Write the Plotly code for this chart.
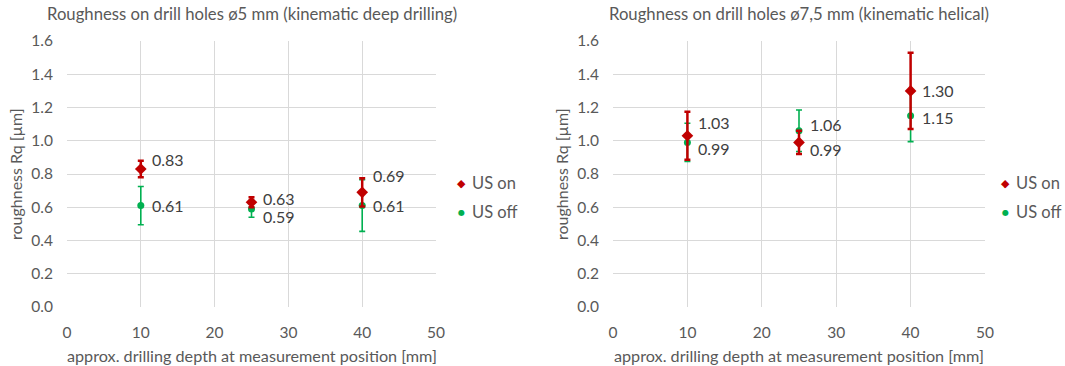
import plotly.graph_objects as go

# ---------------- data ----------------
depth = [10, 25, 40]

# left chart: drill holes ø5 mm (kinematic deep drilling)
l_on = [0.83, 0.63, 0.69]
l_on_err = [0.05, 0.03, 0.085]
l_off = [0.61, 0.59, 0.61]
l_off_err = [0.115, 0.05, 0.155]

# right chart: drill holes ø7,5 mm (kinematic helical)
r_on = [1.03, 0.99, 1.30]
r_on_err = [0.145, 0.07, 0.23]
r_off = [0.99, 1.06, 1.15]
r_off_err = [0.115, 0.125, 0.155]

titles = ["Roughness on drill holes ø5 mm (kinematic deep drilling)",
          "Roughness on drill holes ø7,5 mm (kinematic helical)"]
series_names = ["US on", "US off"]
x_title = "approx. drilling depth at measurement position [mm]"
y_title = "roughness Rq [µm]"

# label offsets (style, pixels)
l_on_dy = [10, 4, 17]
l_off_dy = [0, -8, 0]
r_on_dy = [13, -7, 0]
r_off_dy = [-6, 6, -2]

# ---------------- style ----------------
FONT = "Lato"
RED = "#C00000"
GREEN = "#00B050"
GRID = "#D9D9D9"
TXT = "#595959"
LBL = "#404040"

W, H = 1065, 366
x_dom = [[67 / W, 436 / W], [613 / W, 985 / W]]
y_dom = [(H - 307) / H, (H - 41) / H]


def px(x):
    return x / W


def py(y):
    return (H - y) / H


fig = go.Figure()

panels = [
    (l_on, l_on_err, l_off, l_off_err, l_on_dy, l_off_dy, "x", "y"),
    (r_on, r_on_err, r_off, r_off_err, r_on_dy, r_off_dy, "x2", "y2"),
]

annotations = []
for (on, on_e, off, off_e, on_dy, off_dy, xa, ya) in panels:
    fig.add_trace(go.Scatter(
        x=depth, y=off, mode="markers", name=series_names[1], showlegend=False,
        marker=dict(symbol="circle", size=7, color=GREEN),
        error_y=dict(type="data", array=off_e, visible=True, color=GREEN,
                     thickness=1.6, width=3),
        xaxis=xa, yaxis=ya))
    fig.add_trace(go.Scatter(
        x=depth, y=on, mode="markers", name=series_names[0], showlegend=False,
        marker=dict(symbol="diamond", size=9, color=RED),
        error_y=dict(type="data", array=on_e, visible=True, color=RED,
                     thickness=2.5, width=3),
        xaxis=xa, yaxis=ya))
    for vals, dys in ((on, on_dy), (off, off_dy)):
        for xv, yv, dy in zip(depth, vals, dys):
            annotations.append(dict(
                x=xv, y=yv, xref=xa, yref=ya, text=f"{yv:.2f}",
                showarrow=False, xanchor="left", yanchor="middle",
                xshift=10, yshift=dy, borderpad=0,
                font=dict(family=FONT, size=16, color=LBL)))

# titles and axis titles
for i, t in enumerate(titles):
    cx = (x_dom[i][0] + x_dom[i][1]) / 2
    annotations.append(dict(
        x=cx, y=py(14), xref="paper", yref="paper", text=t, showarrow=False,
        xanchor="center", yanchor="middle",
        font=dict(family=FONT, size=16.7, color=TXT)))
    annotations.append(dict(
        x=cx, y=py(355), xref="paper", yref="paper", text=x_title, showarrow=False,
        xanchor="center", yanchor="middle",
        font=dict(family=FONT, size=16.2, color=TXT)))
    annotations.append(dict(
        x=px(15 if i == 0 else 561), y=(y_dom[0] + y_dom[1]) / 2,
        xref="paper", yref="paper", text=y_title, showarrow=False, textangle=-90,
        xanchor="center", yanchor="middle",
        font=dict(family=FONT, size=16, color=TXT)))

# legends (one per chart)
for lx in (461, 1005):
    for name, sym, col, ly, sz in ((series_names[0], "◆", RED, 183, 11),
                                   (series_names[1], "●", GREEN, 212, 8)):
        annotations.append(dict(
            x=px(lx), y=py(ly), xref="paper", yref="paper", text=sym,
            showarrow=False, xanchor="center", yanchor="middle",
            font=dict(family="DejaVu Sans", size=sz, color=col)))
        annotations.append(dict(
            x=px(lx + 9), y=py(ly), xref="paper", yref="paper", text=name,
            showarrow=False, xanchor="left", yanchor="middle",
            font=dict(family=FONT, size=16.5, color=TXT)))

axis_common = dict(
    showgrid=True, gridcolor=GRID, gridwidth=1,
    showline=False, zeroline=False, ticks="", automargin=False,
    tickfont=dict(family=FONT, size=15.5, color=TXT),
)

layout = dict(
    width=W, height=H,
    margin=dict(l=0, r=0, t=0, b=0),
    paper_bgcolor="white", plot_bgcolor="white",
    font=dict(family=FONT, color=TXT),
    annotations=annotations,
    showlegend=False,
)
for i, (xa, ya) in enumerate((("xaxis", "yaxis"), ("xaxis2", "yaxis2"))):
    layout[xa] = dict(
        axis_common, domain=x_dom[i], range=[0, 50], dtick=10, tick0=0,
        anchor="y" if i == 0 else "y2", ticklabelstandoff=14,
    )
    layout[ya] = dict(
        axis_common, domain=y_dom, range=[0, 1.6], dtick=0.2, tick0=0,
        tickformat=".1f", anchor="x" if i == 0 else "x2",
        ticklabelstandoff=13,
    )

fig.update_layout(**layout)
fig.write_html(
    "out.html",
    config={"displayModeBar": False},
    post_script="document.body.style.margin='0';document.body.style.overflow='hidden';",
)
